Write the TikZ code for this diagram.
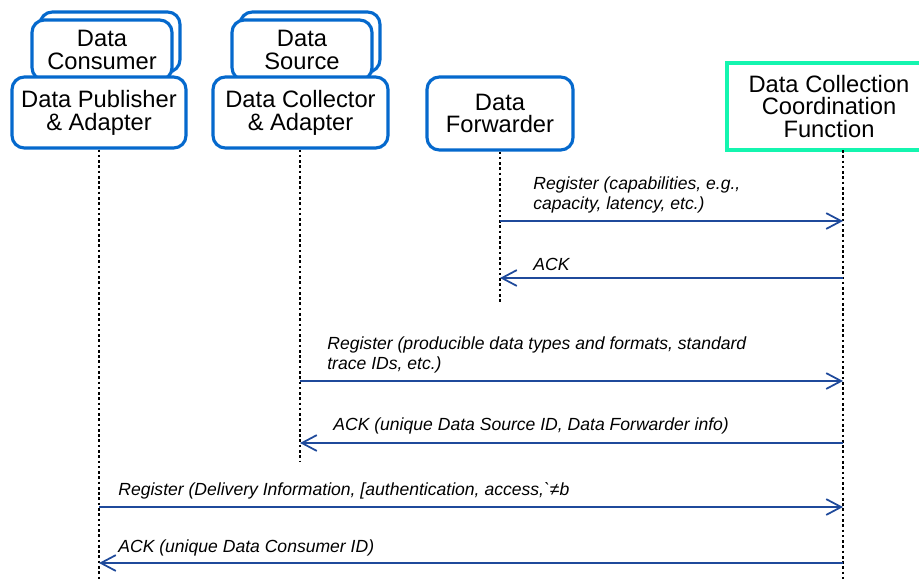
\documentclass[tikz,border=0pt]{standalone}
\usepackage{fontspec}
\setmainfont{Liberation Sans}
\usetikzlibrary{arrows.meta}

\definecolor{boxblue}{RGB}{5,105,205}
\definecolor{msgblue}{RGB}{31,74,155}
\definecolor{dccfgreen}{RGB}{20,245,175}

\begin{document}
\begin{tikzpicture}[x=0.02cm, y=-0.02cm,
  every node/.style = {align=center, font=\fontsize{13.5}{13}\selectfont},
  actor/.style = {shape=rectangle, rounded corners=7pt, draw=boxblue,
    line width=1.8pt, fill=white, minimum height=1.42cm},
  stack/.style = {actor, minimum width=2.8cm, minimum height=1.2cm},
  lifeline/.style = {draw=black, line width=0.6pt, dash pattern=on 1.5pt off 1.5pt},
  msg/.style = {draw=msgblue, line width=1pt,
    -{Straight Barb[length=8.5pt, width=9pt, line width=1pt]}},
  msgtext/.style = {font=\fontsize{10}{11}\selectfont\itshape, align=left,
    inner sep=0pt}]
  \clip (0,0) rectangle (919,579);

  % participants
  \node[stack] (consback) at (110,42) {};
  \node[stack] (consumer) at (102,50) {Data\\Consumer};
  \node[actor, minimum width=3.48cm] (pub) at (99,112.5) {Data Publisher\\\& Adapter};
  \node[stack] (srcback) at (310,42) {};
  \node[stack] (source) at (302,50) {Data\\Source};
  \node[actor, minimum width=3.5cm] (coll) at (300.5,112.5) {Data Collector\\\& Adapter};
  \node[actor, minimum width=2.92cm, minimum height=1.46cm] (fwd) at (500,113.5) {Data\\Forwarder};
  \node[shape=rectangle, draw=dccfgreen, line width=1.8pt, fill=white,
    minimum width=4.08cm, minimum height=1.74cm] (dccf) at (829,106.5)
    {Data Collection\\Coordination\\Function};

  % lifelines
  \coordinate (dccftop) at (843,150);
  \coordinate (pubend) at (99,579);
  \coordinate (collend) at (300,462);
  \coordinate (fwdend) at (500,302);
  \coordinate (dccfend) at (843,579);
  \draw[lifeline] (pub.south) -- (pubend);
  \draw[lifeline] (coll.south -| collend) -- (collend);
  \draw[lifeline] (fwd.south) -- (fwdend);
  \draw[lifeline] (dccftop) -- (dccfend);

  % forwarder registration
  \draw[msg] (fwdend |- 0,221) -- (dccftop |- 0,221);
  \node[msgtext, anchor=south west] (fwdreg) at (533,213)
    {Register (capabilities, e.g.,\\capacity, latency, etc.)};
  \draw[msg] (dccftop |- 0,278) -- (fwdend |- 0,278);
  \node[msgtext, anchor=base west] (fwdack) at (533,270) {ACK};

  % collector registration
  \draw[msg] (collend |- 0,381) -- (dccftop |- 0,381);
  \node[msgtext, anchor=south west] (collreg) at (327,373)
    {Register (producible data types and formats, standard\\trace IDs, etc.)};
  \draw[msg] (dccftop |- 0,443) -- (collend |- 0,443);
  \node[msgtext, anchor=base west] (collack) at (333,430)
    {ACK (unique Data Source ID, Data Forwarder info)};

  % publisher registration
  \draw[msg] (pubend |- 0,507) -- (dccftop |- 0,507);
  \node[msgtext, anchor=base west] (pubreg) at (118,495)
    {Register (Delivery Information, [authentication, access,\textasciigrave≠b};
  \draw[msg] (dccftop |- 0,563) -- (pubend |- 0,563);
  \node[msgtext, anchor=base west] (puback) at (118,552)
    {ACK (unique Data Consumer ID)};
\end{tikzpicture}
\end{document}
